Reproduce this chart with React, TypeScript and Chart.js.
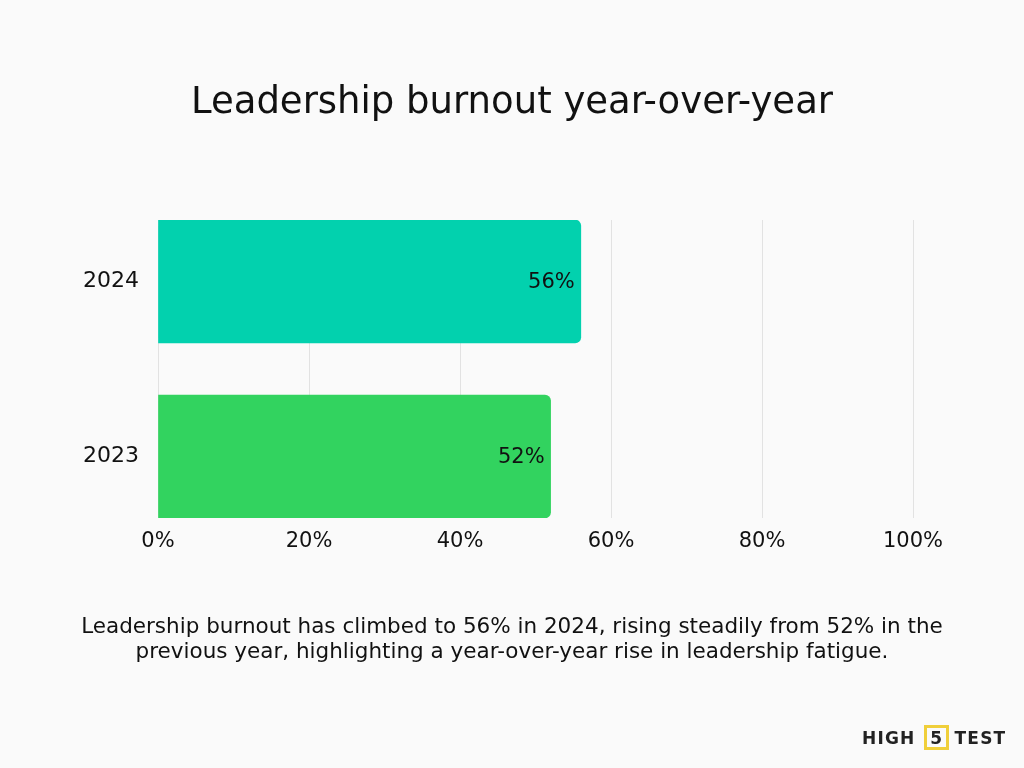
import React, { useEffect, useRef } from "react";
import { Chart, registerables } from "chart.js";

Chart.register(...registerables);

const categories: string[] = ["2024", "2023"];
const values: number[] = [56, 52];
const barColors: string[] = ["#02D1AE", "#32D35F"];
const xTicks: number[] = [0, 20, 40, 60, 80, 100];

const TITLE = "Leadership burnout year-over-year";
const CAPTION_1 = "Leadership burnout has climbed to 56% in 2024, rising steadily from 52% in the";
const CAPTION_2 = "previous year, highlighting a year-over-year rise in leadership fatigue.";

const FONT = "'DejaVu Sans', 'Noto Sans', sans-serif";
const BG = "#FAFAFA";

export default function App() {
  const ref = useRef<HTMLCanvasElement | null>(null);

  useEffect(() => {
    document.body.style.margin = "0";
    document.body.style.background = BG;
    const canvas = ref.current;
    if (!canvas) return;

    const valueLabels = {
      id: "valueLabels",
      afterDatasetsDraw(chart: any) {
        const ctx = chart.ctx;
        const meta = chart.getDatasetMeta(0);
        ctx.save();
        ctx.fillStyle = "#111111";
        ctx.font = `21px ${FONT}`;
        ctx.textAlign = "right";
        ctx.textBaseline = "middle";
        meta.data.forEach((el: any, i: number) => {
          ctx.fillText(`${values[i]}%`, el.x - 6, el.y + 1);
        });
        ctx.restore();
      },
    };

    const chart = new Chart(canvas, {
      type: "bar",
      data: {
        datasets: [
          {
            data: values.map((v, i) => ({ x: v, y: i })),
            backgroundColor: barColors,
            borderRadius: { topRight: 6, bottomRight: 6, topLeft: 0, bottomLeft: 0 },
            borderSkipped: false,
            barThickness: 123,
          },
        ],
      },
      options: {
        indexAxis: "y",
        animation: false,
        responsive: false,
        layout: { padding: { left: 0, right: 111, top: 220, bottom: 0 } },
        plugins: { legend: { display: false }, tooltip: { enabled: false } },
        scales: {
          x: {
            type: "linear",
            min: 0,
            max: 100,
            afterBuildTicks: (scale: any) => {
              scale.ticks = xTicks.map((v) => ({ value: v }));
            },
            afterFit: (scale: any) => {
              scale.height = 250;
            },
            ticks: {
              callback: (v: any) => `${v}%`,
              color: "#111111",
              font: { family: FONT, size: 21 },
              padding: 11,
              maxRotation: 0,
            },
            grid: { color: "#E2E2E2", lineWidth: 1, drawTicks: false },
            border: { display: false },
          },
          y: {
            type: "linear",
            offset: false,
            reverse: true,
            min: -0.3514,
            max: 1.3514,
            afterBuildTicks: (scale: any) => {
              scale.ticks = categories.map((_, i) => ({ value: i }));
            },
            afterFit: (scale: any) => {
              scale.width = 158;
            },
            ticks: {
              callback: (v: any) => categories[v],
              color: "#111111",
              font: { family: FONT, size: 22 },
              padding: 19,
            },
            grid: { display: false, drawTicks: false, offset: false },
            border: { display: false },
          },
        },
      },
      plugins: [valueLabels],
    });
    return () => chart.destroy();
  }, []);

  return (
    <div
      style={{
        position: "fixed",
        left: 0,
        top: 0,
        width: 1024,
        height: 768,
        background: BG,
        fontFamily: FONT,
        color: "#111111",
        overflow: "hidden",
      }}
    >
      <canvas ref={ref} width={1024} height={768} style={{ position: "absolute", left: 0, top: 0, width: 1024, height: 768 }} />
      <div
        style={{
          position: "absolute",
          left: 0,
          top: 79,
          width: 1024,
          textAlign: "center",
          fontSize: 37,
          lineHeight: "44px",
          fontWeight: 500,
        }}
      >
        {TITLE}
      </div>
      <div
        style={{
          position: "absolute",
          left: 0,
          top: 613,
          width: 1024,
          textAlign: "center",
          fontSize: 21.5,
          lineHeight: "25px",
          whiteSpace: "nowrap",
        }}
      >
        {CAPTION_1}
        <br />
        {CAPTION_2}
      </div>
      <div
        style={{
          position: "absolute",
          left: 862,
          top: 725,
          height: 25,
          display: "flex",
          alignItems: "center",
          fontWeight: 700,
          fontSize: 17,
          letterSpacing: 1.2,
          color: "#222222",
        }}
      >
        <span>HIGH</span>
        <span
          style={{
            display: "inline-flex",
            alignItems: "center",
            justifyContent: "center",
            boxSizing: "border-box",
            width: 25,
            height: 25,
            border: "3px solid #F0CF3A",
            margin: "0 6px 0 8px",
            letterSpacing: 0,
          }}
        >
          5
        </span>
        <span>TEST</span>
      </div>
    </div>
  );
}
